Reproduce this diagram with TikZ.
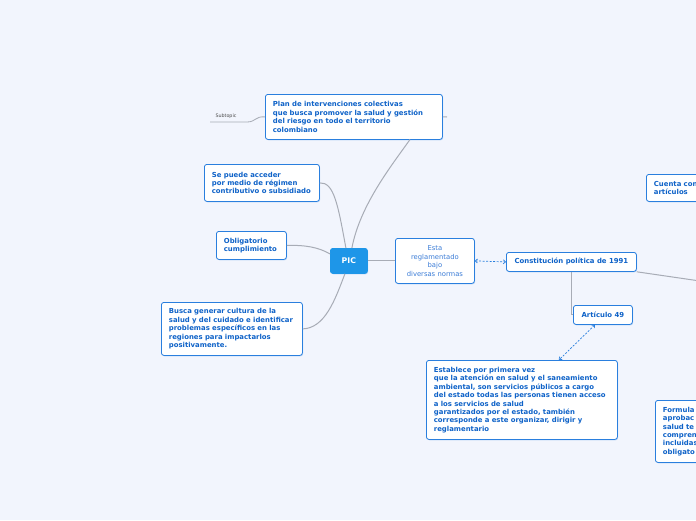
\documentclass[tikz,border=0pt]{standalone}
\usepackage{fontspec}
\setmainfont{DejaVu Sans}
\usetikzlibrary{arrows.meta,shadows,calc}
\definecolor{bgc}{RGB}{242,245,253}
\definecolor{bordc}{RGB}{42,127,222}
\definecolor{txtc}{RGB}{14,98,200}
\definecolor{lightc}{RGB}{60,125,215}
\definecolor{linec}{RGB}{168,172,182}
\definecolor{picc}{RGB}{30,150,232}
\tikzset{
  box/.style={draw=bordc, fill=white, rounded corners=2.5pt, line width=0.8pt,
    inner xsep=7.5pt, inner ysep=0pt, text=txtc, align=left, anchor=north west,
    font=\bfseries\fontsize{6.9}{8.45}\selectfont,
    drop shadow={shadow xshift=0.7pt, shadow yshift=-0.9pt, opacity=0.25, fill=bordc}},
  conn/.style={draw=linec, line width=1pt},
  dconn/.style={draw=bordc, line width=0.7pt, dashed, dash pattern=on 2pt off 1.5pt,
    {Straight Barb[length=2.2pt,width=4pt]}-{Straight Barb[length=2.2pt,width=4pt]}}
}
\begin{document}
\begin{tikzpicture}[x=1pt,y=-1pt]
\useasboundingbox[fill=bgc] (0,0) rectangle (696,520);

% nodes
\node[box, minimum width=177pt, minimum height=45pt, text width=162pt] (plan) at (265,94)
  {Plan de intervenciones colectivas\\que busca promover la salud y gestión\\del riesgo en todo el territorio\\colombiano};
\node[box, minimum width=115pt, minimum height=37pt, text width=100pt] (acc) at (204,164)
  {Se puede acceder\\por medio de régimen\\contributivo o subsidiado};
\node[box, minimum width=70pt, minimum height=28pt, text width=55pt] (obl) at (216,231)
  {Obligatorio\\cumplimiento};
\node[box, minimum width=141pt, minimum height=53pt, text width=126pt] (busca) at (161,302)
  {Busca generar cultura de la\\salud y del cuidado e identificar\\problemas específicos en las\\regiones para impactarlos\\positivamente.};
\node[box, fill=picc, draw=picc, text=white, align=center, minimum width=37pt, minimum height=25pt,
  inner xsep=0pt, font=\bfseries\fontsize{7.8}{9}\selectfont] (pic) at (330,248) {PIC};
\node[box, align=center, minimum width=79pt, minimum height=45pt, text width=64pt, text=lightc,
  font=\fontsize{6.8}{8.45}\selectfont] (esta) at (395,238)
  {Esta\\reglamentado\\bajo\\diversas normas};
\node[box, align=center, minimum width=130pt, minimum height=19pt, inner xsep=0pt] (const) at (506,252)
  {Constitución política de 1991};
\node[box, align=center, minimum width=59pt, minimum height=19pt, inner xsep=0pt] (art) at (573,305)
  {Artículo 49};
\node[box, minimum width=191pt, minimum height=79pt, text width=176pt] (est) at (426,360)
  {Establece por primera vez\\que la atención en salud y el saneamiento\\ambiental, son servicios públicos a cargo\\del estado todas las personas tienen acceso\\a los servicios de salud\\garantizados por el estado, también\\corresponde a este organizar, dirigir y\\reglamentario};
\node[box, minimum width=80pt, minimum height=27pt, text width=65pt] (cuenta) at (646,174)
  {Cuenta con\\artículos};
\node[box, minimum width=80pt, minimum height=62pt, text width=65pt] (form) at (655,400)
  {Formula\\aprobac\\salud te\\compren\\incluidas\\obligato};

% subtopic
\node[text=black!70, font=\fontsize{4.8}{5}\selectfont, anchor=center] (sub) at (226,116) {Subtopic};
\coordinate (subl) at (210,122);
\coordinate (pr) at (447,117);
\coordinate (cr) at (700,281);

% connectors
\draw[conn, line width=0.8pt] (subl) -- (247,122) .. controls (256,122) and (255,116) .. (plan.west);
\draw[conn] (plan.east) -- (pr);
\draw[conn] ($(pic.north)+(3,0)$) .. controls (360,205) and (392,165) .. (410,139.5);
\draw[conn] (acc.east) .. controls (334,182) and (338,205) .. ($(pic.north)+(-3,0)$);
\draw[conn] (obl.east) .. controls (305,245) and (318,247) .. ($(pic.west)+(0,-7)$);
\draw[conn] (busca.east) .. controls (325,328) and (335,300) .. ($(pic.south)+(-4,0)$);
\draw[conn] (pic.east) -- (esta.west);
\draw[conn] (const.south east) -- (cr);
\draw[conn] (const.south) -- (const.south |- art.west) -- (art.west);
\draw[dconn] (esta.east) -- (const.west);
\draw[dconn] ($(art.south)+(-8,0)$) -- ($(est.north)+(37,0)$);
\end{tikzpicture}
\end{document}
